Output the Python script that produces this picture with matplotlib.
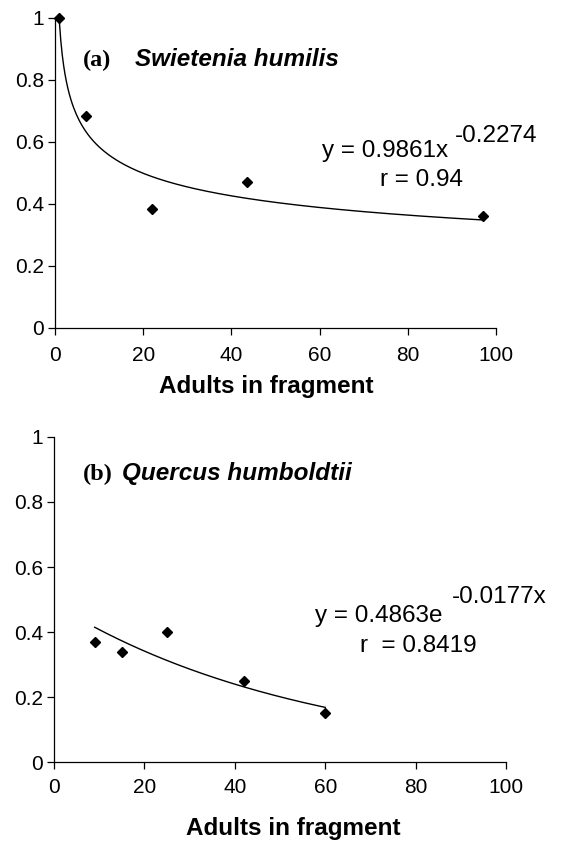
import numpy as np
import matplotlib
matplotlib.use('Agg')
import matplotlib.pyplot as plt
from matplotlib.ticker import FuncFormatter

plt.rcParams['font.family'] = ['Liberation Sans', 'DejaVu Sans']
plt.rcParams['font.size'] = 15

# (a) Swietenia humilis
adults_a = [1, 7, 22, 43.5, 97]
value_a = [1.0, 0.685, 0.385, 0.47, 0.362]
# (b) Quercus humboldtii
adults_b = [9, 15, 25, 42, 60]
value_b = [0.37, 0.34, 0.40, 0.25, 0.15]

xticks = [0, 20, 40, 60, 80, 100]
yticks = [0, 0.2, 0.4, 0.6, 0.8, 1]

fig = plt.figure(figsize=(5.73, 8.41), dpi=100)
ax1 = fig.add_axes([0.096, 0.610, 0.770, 0.3686])
ax2 = fig.add_axes([0.0942, 0.0939, 0.789, 0.3865])

fmt = FuncFormatter(lambda v, p: '%g' % v)
for ax in (ax1, ax2):
    ax.set_xlim(0, 100)
    ax.set_ylim(0, 1)
    ax.set_xticks(xticks)
    ax.set_yticks(yticks)
    ax.yaxis.set_major_formatter(fmt)
    ax.xaxis.set_major_formatter(fmt)
    for s in ('top', 'right'):
        ax.spines[s].set_visible(False)
    for s in ('left', 'bottom'):
        ax.spines[s].set_linewidth(0.9)
    ax.tick_params(direction='out', length=5, width=0.9, labelsize=15)
    ax.tick_params(axis='y', pad=3)
    ax.set_xlabel('Adults in fragment', fontsize=17.5, fontweight='bold')
    ax.xaxis.label.set_va('baseline')

ax1.tick_params(axis='x', pad=8)
ax2.tick_params(axis='x', pad=6.5)

# power fit for (a)
xa = np.linspace(1, 97, 300)
ax1.plot(xa, 0.9861 * xa ** -0.2274, color='black', lw=1, clip_on=False)
ax1.plot(adults_a, value_a, 'D', color='black', ms=5, clip_on=False)
ax1.text(6.3, 0.845, '(a)', family='Liberation Serif', fontweight='bold', fontsize=17.5)
ax1.text(18.1, 0.845, 'Swietenia humilis', fontweight='bold', style='italic', fontsize=17.5)
ax1.text(60.5, 0.552, 'y = 0.9861x', fontsize=17.5)
ax1.text(90.7, 0.600, '-0.2274', fontsize=17.5)
ax1.text(73.7, 0.458, 'r = 0.94', fontsize=17.5)
ax1.xaxis.set_label_coords(0.478, -0.210)

# exponential fit for (b)
xb = np.linspace(9, 60, 300)
ax2.plot(xb, 0.4863 * np.exp(-0.0177 * xb), color='black', lw=1)
ax2.plot(adults_b, value_b, 'D', color='black', ms=5)
ax2.text(6.4, 0.868, '(b)', family='Liberation Serif', fontweight='bold', fontsize=17.5)
ax2.text(15.0, 0.868, 'Quercus humboldtii', fontweight='bold', style='italic', fontsize=17.5)
ax2.text(57.7, 0.431, 'y = 0.4863e', fontsize=17.5)
ax2.text(88.0, 0.489, '-0.0177x', fontsize=17.5)
ax2.text(67.7, 0.338, 'r  = 0.8419', fontsize=17.5)
ax2.xaxis.set_label_coords(0.529, -0.2246)

fig.savefig('out.png', dpi=100)
